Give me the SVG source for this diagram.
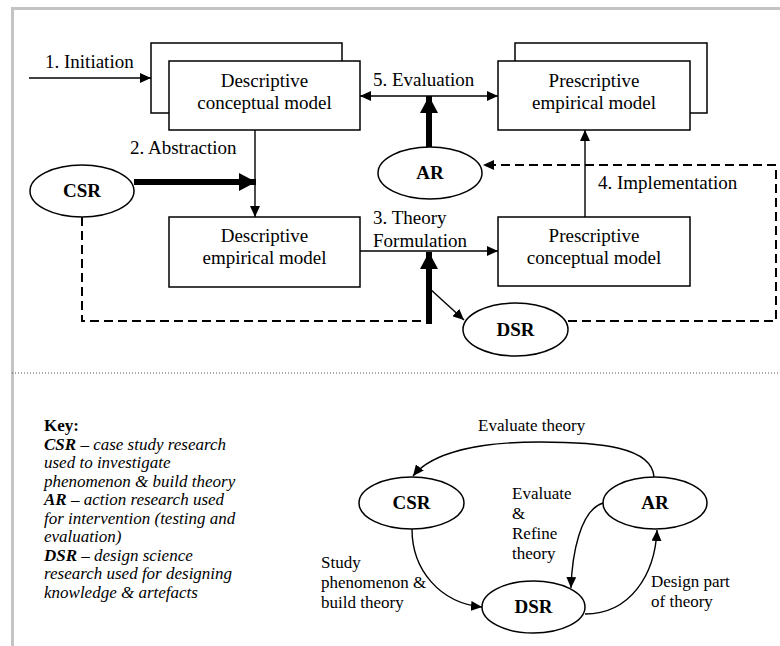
<svg xmlns="http://www.w3.org/2000/svg" width="780" height="646" viewBox="0 0 780 646" font-family="'Liberation Serif', Tinos, 'Times New Roman', 'DejaVu Serif', serif">
  <defs>
    <style>
      text { font-family: 'Liberation Serif', Tinos, 'Times New Roman', 'DejaVu Serif', serif; fill: #000; }
      .t { font-size: 19px; }
      .s { font-size: 17px; }
      .k { font-size: 17px; font-style: italic; }
      .b { font-weight: bold; }
      .box { fill: #fff; stroke: #000; stroke-width: 1.5; }
      .ell { fill: #fff; stroke: #000; stroke-width: 1.5; }
      .ln { fill: none; stroke: #000; stroke-width: 1.4; }
      .thick { fill: none; stroke: #000; stroke-width: 6; }
      .dash { fill: none; stroke: #000; stroke-width: 2; stroke-dasharray: 9 5; }
    </style>
    <marker id="ah" markerUnits="userSpaceOnUse" markerWidth="12" markerHeight="10" refX="11" refY="5" orient="auto-start-reverse" viewBox="0 0 12 10">
      <path d="M0,0 L11,5 L0,10 z" fill="#000"/>
    </marker>
    <marker id="ahb" markerUnits="userSpaceOnUse" markerWidth="18" markerHeight="18" refX="17" refY="9" orient="auto" viewBox="0 0 18 18">
      <path d="M0,0 L17,9 L0,18 z" fill="#000"/>
    </marker>
  </defs>

  <rect width="780" height="646" fill="#fff"/>
  <!-- frame and separator -->
  <path d="M12.5,646 V8.5 H780" fill="none" stroke="#c4c4c4" stroke-width="3"/>
  <line x1="12" y1="373" x2="780" y2="373" stroke="#555" stroke-width="1" stroke-dasharray="1 2"/>

  <!-- upper process diagram: connectors -->
  <g id="connectors">
    <line class="ln" x1="29" y1="78" x2="151" y2="78" marker-end="url(#ah)"/>
    <line class="ln" x1="360" y1="96" x2="498" y2="96" marker-start="url(#ah)" marker-end="url(#ah)"/>
    <line class="ln" x1="255" y1="130" x2="255" y2="217" marker-end="url(#ah)"/>
    <line class="ln" x1="360" y1="251" x2="498" y2="251" marker-end="url(#ah)"/>
    <line class="ln" x1="585" y1="217" x2="585" y2="130" marker-end="url(#ah)"/>
    <line class="thick" x1="134" y1="182" x2="256" y2="182" marker-end="url(#ahb)"/>
    <line class="thick" x1="429" y1="147" x2="429" y2="96" marker-end="url(#ahb)"/>
    <line class="thick" x1="429" y1="324" x2="429" y2="252" marker-end="url(#ahb)"/>
    <line class="ln" x1="429" y1="288" x2="464" y2="320" marker-end="url(#ah)"/>
    <path class="dash" d="M82,217 V321 H427"/>
    <path class="dash" d="M568,321 H776 V165 H483" marker-end="url(#ah)"/>
  </g>

  <g id="labels">
    <text class="t" x="45" y="68">1. Initiation</text>
    <text class="t" x="373" y="86">5. Evaluation</text>
    <text class="t" x="130" y="154">2. Abstraction</text>
    <text class="t" x="373" y="224">3. Theory</text>
    <text class="t" x="373" y="247">Formulation</text>
    <text class="t" x="598" y="189">4. Implementation</text>
  </g>

  <g id="desc-conceptual">
    <rect class="box" x="151" y="43" width="191" height="70"/>
    <rect class="box" x="169" y="61" width="191" height="69"/>
    <text class="t" x="264.5" y="87" text-anchor="middle">Descriptive</text>
    <text class="t" x="264.5" y="109" text-anchor="middle">conceptual model</text>
  </g>

  <g id="presc-empirical">
    <rect class="box" x="515" y="43" width="192" height="70"/>
    <rect class="box" x="498" y="61" width="192" height="69"/>
    <text class="t" x="594" y="87" text-anchor="middle">Prescriptive</text>
    <text class="t" x="594" y="109" text-anchor="middle">empirical model</text>
  </g>

  <g id="desc-empirical">
    <rect class="box" x="169" y="217" width="191" height="70"/>
    <text class="t" x="264.5" y="242" text-anchor="middle">Descriptive</text>
    <text class="t" x="264.5" y="264" text-anchor="middle">empirical model</text>
  </g>

  <g id="presc-conceptual">
    <rect class="box" x="498" y="217" width="192" height="69"/>
    <text class="t" x="594" y="242" text-anchor="middle">Prescriptive</text>
    <text class="t" x="594" y="264" text-anchor="middle">conceptual model</text>
  </g>

  <g id="csr-top">
    <ellipse class="ell" cx="82" cy="191" rx="52" ry="26"/>
    <text class="t b" x="82" y="197" text-anchor="middle">CSR</text>
  </g>
  <g id="ar-top">
    <ellipse class="ell" cx="430" cy="173" rx="52" ry="26"/>
    <text class="t b" x="430" y="179" text-anchor="middle">AR</text>
  </g>
  <g id="dsr-top">
    <ellipse class="ell" cx="515.5" cy="329.5" rx="52.5" ry="26.5"/>
    <text class="t b" x="515.5" y="336" text-anchor="middle">DSR</text>
  </g>

  <!-- key -->
  <g id="key">
    <text class="s b" x="44" y="431">Key:</text>
    <text class="k" x="44" y="450"><tspan class="b">CSR</tspan> – case study research</text>
    <text class="k" x="44" y="468">used to investigate</text>
    <text class="k" x="44" y="487">phenomenon &amp; build theory</text>
    <text class="k" x="44" y="505"><tspan class="b">AR</tspan> – action research used</text>
    <text class="k" x="44" y="524">for intervention (testing and</text>
    <text class="k" x="44" y="542">evaluation)</text>
    <text class="k" x="44" y="561"><tspan class="b">DSR</tspan> – design science</text>
    <text class="k" x="44" y="579">research used for designing</text>
    <text class="k" x="44" y="598">knowledge &amp; artefacts</text>
  </g>

  <!-- lower cycle diagram: connectors -->
  <g id="cycle-connectors">
    <path class="ln" d="M654,477 C652,447 600,442 540,442 C480,442 432,452 413,476" marker-end="url(#ah)"/>
    <path class="ln" d="M603,503 C580,510 572,555 571,588" marker-end="url(#ah)"/>
    <path class="ln" d="M412,529 C412,570 440,603 482,607" marker-end="url(#ah)"/>
    <path class="ln" d="M585,614 C630,614 655,575 657,530" marker-end="url(#ah)"/>
  </g>

  <g id="cycle-labels">
    <text class="s" x="478" y="431">Evaluate theory</text>
    <text class="s" x="512" y="499">Evaluate</text>
    <text class="s" x="512" y="519">&amp;</text>
    <text class="s" x="512" y="539">Refine</text>
    <text class="s" x="512" y="559">theory</text>
    <text class="s" x="321" y="568">Study</text>
    <text class="s" x="321" y="588">phenomenon &amp;</text>
    <text class="s" x="321" y="608">build theory</text>
    <text class="s" x="651" y="587">Design part</text>
    <text class="s" x="651" y="607">of theory</text>
  </g>

  <g id="csr">
    <ellipse class="ell" cx="411.5" cy="503" rx="52.5" ry="26"/>
    <text class="t b" x="411.5" y="509" text-anchor="middle">CSR</text>
  </g>
  <g id="ar">
    <ellipse class="ell" cx="655" cy="503" rx="52" ry="26"/>
    <text class="t b" x="655" y="509" text-anchor="middle">AR</text>
  </g>
  <g id="dsr">
    <ellipse class="ell" cx="533.5" cy="607" rx="51.5" ry="26"/>
    <text class="t b" x="533.5" y="613" text-anchor="middle">DSR</text>
  </g>
</svg>
